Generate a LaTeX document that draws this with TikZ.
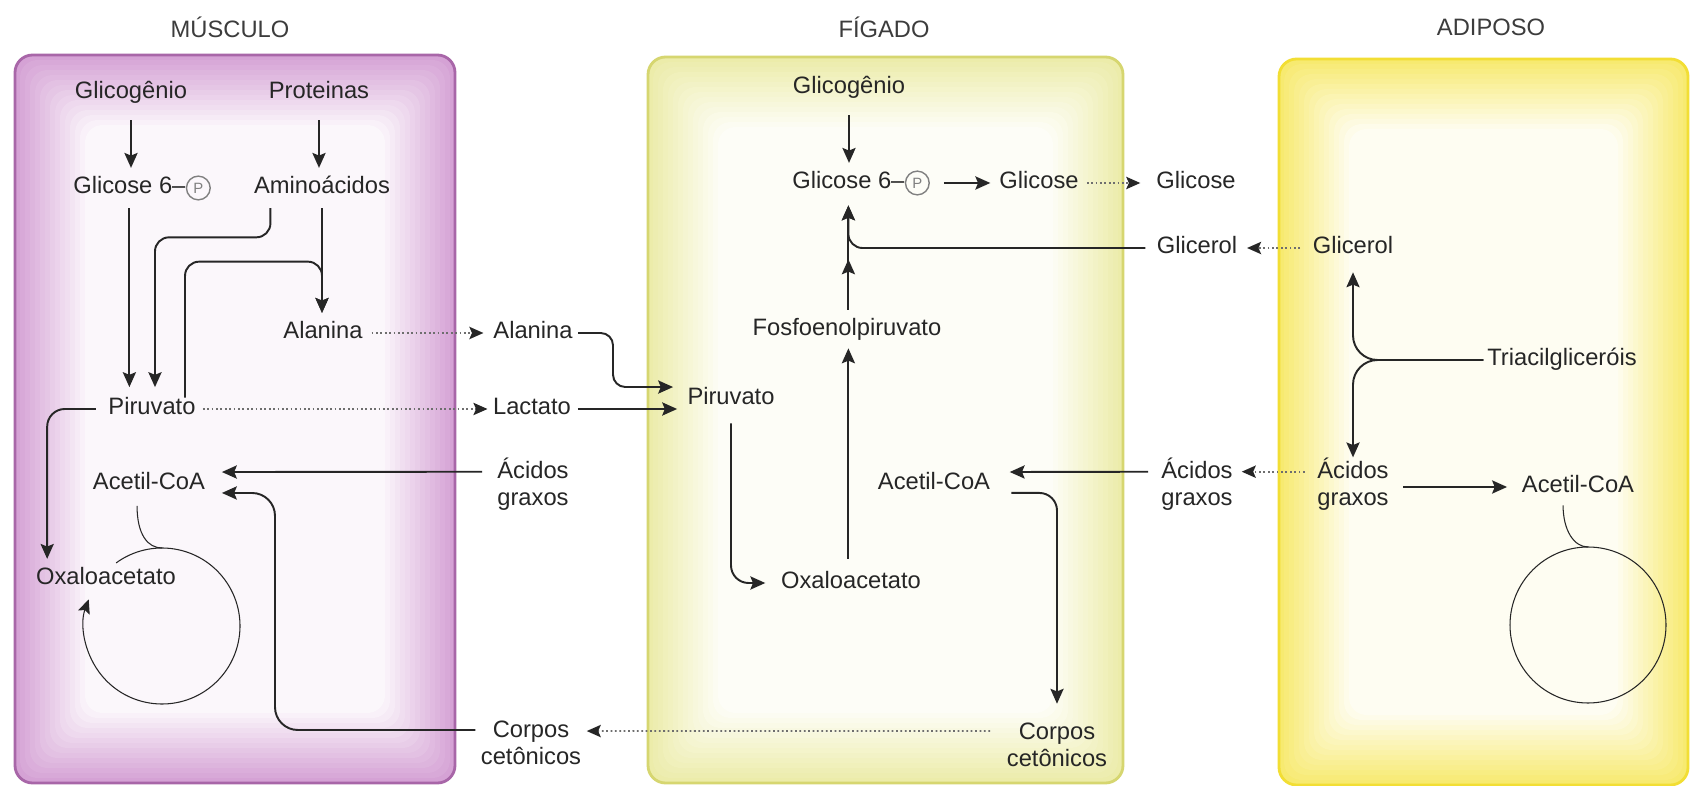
\documentclass[tikz,border=0pt]{standalone}
\usepackage{fontspec}
\setmainfont{Liberation Sans}
\usepackage{tikz}
\usetikzlibrary{arrows.meta,positioning,calc}
\definecolor{ink}{HTML}{262626}
\definecolor{titink}{HTML}{3C3C3C}
\definecolor{dotgray}{HTML}{6E6E6E}
\definecolor{musedge}{HTML}{A866A8}
\definecolor{musfill}{HTML}{D5A2D5}
\definecolor{figedge}{HTML}{D6D670}
\definecolor{figfill}{HTML}{ECECAA}
\definecolor{adiedge}{HTML}{F2DE34}
\definecolor{adifill}{HTML}{F7EA70}
\newcommand{\glowbox}[6]{%
	\foreach \i [evaluate=\i as \pct using int(100-\i*6.5)] in {0,...,14}
		\fill[#1!\pct!white, rounded corners=10pt] ({#3+\i*5},{#4+\i*5}) rectangle ({#5-\i*5},{#6-\i*5});
	\draw[#2, line width=1.6pt, rounded corners=10pt] (#3,#4) rectangle (#5,#6);}

\begin{document}
\begin{tikzpicture}[x=0.02cm, y=-0.02cm,
	lbl/.style={inner sep=0pt, text height=9.6pt, text depth=2.9pt, text=ink, font=\fontsize{13.5}{15.4}\selectfont},
	lbl2/.style={inner sep=0pt, align=center, text=ink, font=\fontsize{13.5}{15.4}\selectfont},
	tit/.style={inner sep=0pt, text=titink, font=\fontsize{13.5}{15.4}\selectfont},
	pcirc/.style={circle, draw=gray, line width=0.8pt, inner sep=0pt, minimum size=13.5pt, text=gray, font=\fontsize{8.5}{9}\selectfont},
	arr/.style={draw=ink, line width=1.1pt, -{Stealth[length=8.5pt,width=7.5pt,inset=1.5pt]}},
	dotarr/.style={draw=dotgray, line width=1pt, dash pattern=on 1pt off 1.5pt, -{Stealth[length=8pt,width=7pt,inset=1.5pt,color=ink]}},
	cyc/.style={draw=ink, line width=0.6pt}]
	\useasboundingbox (0,0) rectangle (1690,786);
	\fill[white] (0,0) rectangle (1690,786);

	\glowbox{musfill}{musedge}{15}{55}{455}{783}
	\glowbox{figfill}{figedge}{648}{57}{1123}{783}
	\glowbox{adifill}{adiedge}{1279}{59}{1688}{785}

	\node[tit] (tmus) at (230,27) {MÚSCULO};
	\node[tit] (tfig) at (884,27) {FÍGADO};
	\node[tit] (tadi) at (1491,27) {ADIPOSO};

	\node[lbl] (glim) at (131,93) {Glicogênio};
	\node[lbl] (prom) at (319,93) {Proteinas};
	\node[lbl, anchor=west] (g6pm) at (73,188) {Glicose 6–};
	\node[pcirc, right=0pt of g6pm] (pm) {P};
	\node[lbl] (amim) at (322,188) {Aminoácidos};
	\node[lbl] (alam) at (323,333) {Alanina};
	\node[lbl] (pirm) at (152,409) {Piruvato};
	\node[lbl] (acem) at (149,484) {Acetil-CoA};
	\node[lbl] (oxam) at (106,579) {Oxaloacetato};
	\coordinate (krebsm) at (162,626);

	\node[lbl] (ala2) at (533,333) {Alanina};
	\node[lbl] (lac) at (532,409) {Lactato};
	\node[lbl2] (acgm) at (533,484) {Ácidos\\graxos};
	\node[lbl2] (corm) at (531,743) {Corpos\\cetônicos};

	\node[lbl] (glil) at (849,88) {Glicogênio};
	\node[lbl, anchor=west] (g6pl) at (792,183) {Glicose 6–};
	\node[pcirc, right=0pt of g6pl] (pl) {P};
	\node[lbl] (glcl) at (1039,183) {Glicose};
	\node[lbl] (glco) at (1196,183) {Glicose};
	\node[lbl] (gcrm) at (1197,248) {Glicerol};
	\node[lbl] (fosf) at (847,330) {Fosfoenolpiruvato};
	\node[lbl] (pirl) at (731,399) {Piruvato};
	\node[lbl] (acel) at (934,484) {Acetil-CoA};
	\node[lbl] (oxal) at (851,583) {Oxaloacetato};
	\node[lbl2] (acgl) at (1197,484) {Ácidos\\graxos};
	\node[lbl2] (corl) at (1057,745) {Corpos\\cetônicos};

	\node[lbl] (gcra) at (1353,248) {Glicerol};
	\node[lbl] (tag) at (1562,360) {Triacilgliceróis};
	\node[lbl2] (acga) at (1353,484) {Ácidos\\graxos};
	\node[lbl] (acea) at (1578,487) {Acetil-CoA};
	\coordinate (krebsa) at (1588,625);

	\draw[arr, shorten <=9pt, shorten >=5pt] (glim.south) -- (glim.south |- g6pm.north);
	\draw[arr, shorten <=9pt, shorten >=5pt] (prom.south) -- (prom.south |- amim.north);
	\draw[arr, shorten <=5pt, shorten >=6pt] (g6pm.south) -- (g6pm.south |- pirm.north);
	\draw[arr, rounded corners=8pt, shorten <=5pt, shorten >=6pt] ([xshift=9.5pt]amim.south west) -- ++(0,38) -| ([xshift=1.7pt]pirm.north);
	\draw[arr, rounded corners=8pt, shorten >=5pt] ([xshift=18.8pt]pirm.north) -- ++(0,-136) -| (amim.south |- alam.north);
	\draw[arr, shorten <=5pt, shorten >=5pt] (amim.south) -- (amim.south |- alam.north);
	\draw[dotarr, shorten <=5pt, shorten >=5.5pt] (alam.east) -- (ala2.west);
	\draw[dotarr, shorten <=4pt, shorten >=3pt] (pirm.east) -- (lac.west);
	\draw[arr, rounded corners=10pt, shorten <=7pt, shorten >=5pt] (pirm.west) -| ([xshift=6.5pt]oxam.north west);
	\draw[arr, shorten <=8.5pt, shorten >=9.4pt] ([yshift=7pt]acgm.west) -- ([yshift=6.8pt]acem.east);
	\draw[arr, rounded corners=13pt, shorten <=3pt, shorten >=9.4pt] ([yshift=7.4pt]corm.west) -| (275,493) -- ([yshift=-5.1pt]acem.east);
	\draw[cyc] ([xshift=-6.8pt,yshift=-6pt]acem.south) .. controls +(0,29) and +(-14,0) .. ($(krebsm)+(0,-78)$);
	\draw[cyc, -{Stealth[length=8pt,width=7pt,inset=1.5pt]}] (krebsm) ++(-126:78) arc[start angle=-126, end angle=200, radius=78];

	\draw[arr, rounded corners=7pt, shorten <=3pt, shorten >=8pt] (ala2.east) -- (613,333) -- (613,387) -- ([yshift=6.8pt]pirl.west);
	\draw[arr, shorten <=3.7pt, shorten >=5.7pt] (lac.east) -- (lac.east -| pirl.west);
	\draw[arr, shorten <=9pt, shorten >=5pt] (glil.south) -- (glil.south |- g6pl.north);
	\draw[arr, shorten <=8pt, shorten >=5pt] (pl.east) -- (glcl.west);
	\draw[dotarr, shorten <=4.5pt, shorten >=9pt] (glcl.east) -- (glco.west);
	\draw[dotarr, shorten <=7pt, shorten >=5.4pt] (gcra.west) -- (gcrm.east);
	\draw[arr, rounded corners=8pt, shorten <=6.3pt, shorten >=6.3pt] (gcrm.west) -| (g6pl.south);
	\draw[arr, shorten <=5pt, shorten >=6.3pt] (g6pl.south |- fosf.north) -- (g6pl.south);
	\draw[arr, shorten <=5pt] (g6pl.south |- fosf.north) -- (g6pl.south |- gcrm.south);
	\draw[arr, shorten <=7.4pt, shorten >=4pt] (g6pl.south |- oxal.north) -- (g6pl.south |- fosf.south);
	\draw[arr, rounded corners=10pt, shorten <=7.4pt, shorten >=8.8pt] (pirl.south) |- (oxal.west);
	\draw[arr, shorten <=7.4pt, shorten >=11pt] ([yshift=7pt]acgl.west) -- ([yshift=6.8pt]acel.east);
	\draw[arr, rounded corners=10pt, shorten <=12pt, shorten >=10.8pt] ([yshift=-5.1pt]acel.east) -| (corl.north);
	\draw[dotarr, shorten <=9.4pt, shorten >=3pt] ([yshift=8pt]corl.west) -- ([yshift=6.8pt]corm.east);

	\draw[arr, rounded corners=14pt, shorten <=2pt, shorten >=7.4pt] (tag.west) -| (gcra.south);
	\draw[arr, rounded corners=14pt, shorten <=2pt] (tag.west) -| (acga.north);
	\draw[dotarr, shorten <=7pt, shorten >=5pt] ([yshift=7pt]acga.west) -- ([yshift=7pt]acgl.east);
	\draw[arr, shorten <=8pt, shorten >=8.3pt] (acga.east |- acea.west) -- (acea.west);
	\draw[cyc] ([xshift=-8.5pt,yshift=-4pt]acea.south) .. controls +(0,25) and +(-14,0) .. ($(krebsa)+(0,-78)$);
	\draw[cyc] (krebsa) circle[radius=78];
\end{tikzpicture}
\end{document}
